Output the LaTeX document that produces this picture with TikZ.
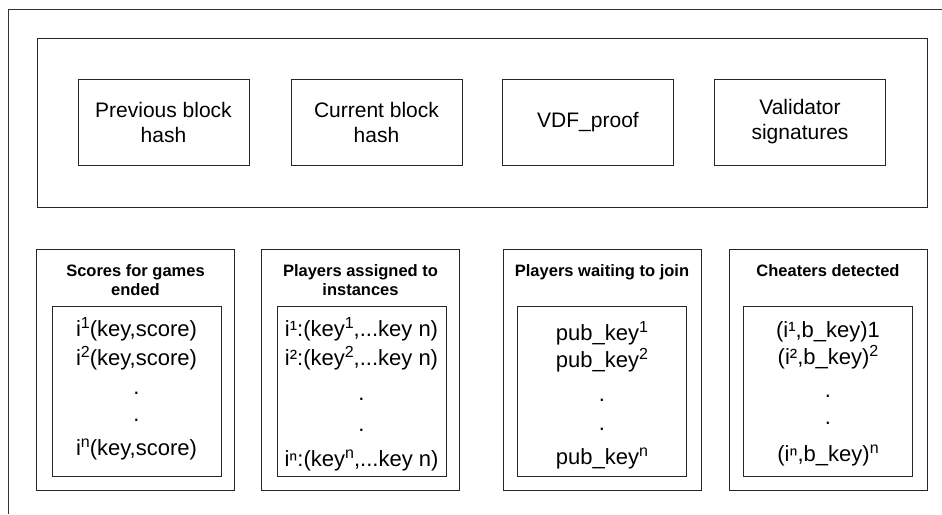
\documentclass[tikz,border=0pt]{standalone}
\usepackage{fontspec}
\setmainfont{Liberation Sans}
% raised superscript, sized like an HTML <sup>
\newcommand{\hsup}[1]{\raisebox{0.36em}{\fontsize{16}{16}\selectfont #1}}
\begin{document}
\begin{tikzpicture}[x=1pt,y=-1pt,
  frame/.style={draw=black!80, line width=1pt},
  box/.style={draw=black!85, line width=1pt, rectangle, inner sep=0pt, align=center},
  hdr/.style={box, minimum width=171pt, minimum height=86pt, font=\fontsize{21}{25}\selectfont},
  col/.style={box, minimum width=198pt, minimum height=241pt},
  list/.style={box, minimum width=169pt, minimum height=170pt},
  ln/.style={anchor=base, inner sep=0pt, font=\fontsize{22}{26}\selectfont},
  ttl/.style={anchor=north, inner sep=0pt, align=center, font=\fontsize{16.5}{18.5}\selectfont\bfseries}
]
\useasboundingbox (0,0) rectangle (942,514);
\fill[white] (0,0) rectangle (942,514);

% open outer frame (top and left edges only)
\coordinate (frTR) at (942,9);
\coordinate (frTL) at (8,9);
\coordinate (frBL) at (8,514);
\draw[frame] (frTR) -- (frTL) -- (frBL);

% block header
\node[box, minimum width=890pt, minimum height=169pt] (block) at (482,122.5) {};
\node[hdr] (prev) at (163.5,122) {Previous block\\hash};
\node[hdr] (curr) at (376.5,122) {Current block\\hash};
\node[hdr] (vdf)  at (588,122)   {VDF\_proof};
\node[hdr] (sigs) at (800,122)   {Validator\\signatures};

% block body columns
\node[col] (scores)   at (135.5,369.5) {};
\node[col] (assigned) at (360.5,369.5) {};
\node[col] (waiting)  at (602,369.5)   {};
\node[col] (cheaters) at (828,369.5)   {};

\node[ttl] (scoresT)   at ([yshift=-16pt]scores.north)   {Scores for games\\ended};
\node[ttl] (assignedT) at ([yshift=-16pt]assigned.north) {Players assigned to\\instances};
\node[ttl] (waitingT)  at ([yshift=-16pt]waiting.north)  {Players waiting to join};
\node[ttl] (cheatersT) at ([yshift=-16pt]cheaters.north) {Cheaters detected};

% list frames
\node[list] (scoresL)   at (136.5,391) {};
\node[list] (assignedL) at (361.5,391) {};
\node[list] (waitingL)  at (602,391)   {};
\node[list] (cheatersL) at (828,391)   {};

% list entries, one node per line
\node[ln] (s1) at (136.5,336) {i\hsup{1}(key,score)};
\node[ln] (s2) at (136.5,365) {i\hsup{2}(key,score)};
\node[ln] (s3) at (136.5,394) {.};
\node[ln] (s4) at (136.5,421) {.};
\node[ln] (s5) at (136.5,455) {i\hsup{n}(key,score)};

\node[ln] (a1) at (361.5,336) {i¹:(key\hsup{1},...key n)};
\node[ln] (a2) at (361.5,365) {i²:(key\hsup{2},...key n)};
\node[ln] (a3) at (361.5,400) {.};
\node[ln] (a4) at (361.5,431) {.};
\node[ln] (a5) at (361.5,466) {iⁿ:(key\hsup{n},...key n)};

\node[ln] (w1) at (602,340) {pub\_key\hsup{1}};
\node[ln] (w2) at (602,367) {pub\_key\hsup{2}};
\node[ln] (w3) at (602,401) {.};
\node[ln] (w4) at (602,430) {.};
\node[ln] (w5) at (602,464) {pub\_key\hsup{n}};

\node[ln] (c1) at (828,337) {(i¹,b\_key)1};
\node[ln] (c2) at (828,364) {(i²,b\_key)\hsup{2}};
\node[ln] (c3) at (828,397) {.};
\node[ln] (c4) at (828,424) {.};
\node[ln] (c5) at (828,461) {(iⁿ,b\_key)\hsup{n}};
\end{tikzpicture}
\end{document}
